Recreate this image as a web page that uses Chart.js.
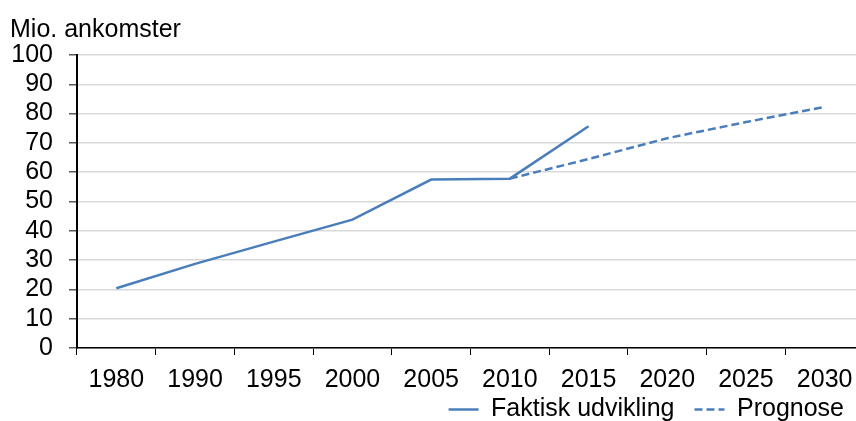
<!DOCTYPE html>
<html>
<head>
<meta charset="utf-8">
<script src="https://cdn.jsdelivr.net/npm/chart.js@4/dist/chart.umd.min.js"></script>
<style>
  html, body { margin: 0; padding: 0; background: #fff; overflow: hidden; }
  #wrap { width: 856px; height: 421px; overflow: hidden; }
</style>
</head>
<body>
<div id="wrap"><canvas id="myChart" width="864" height="432"></canvas></div>
<script>
const years = ["1980", "1990", "1995", "2000", "2005", "2010", "2015", "2020", "2025", "2030"];
const faktisk = [20.4, 28.7, 36.3, 43.8, 57.5, 57.8, 75.7, null, null, null];
const prognose = [null, null, null, null, null, 57.8, 64.5, 71.6, 77.1, 82.3];

window.onload = function () {
  const canvas = document.getElementById("myChart");
  const ctx = canvas.getContext("2d");
  const blue = "#4a7ebb";

  Chart.defaults.font.family = "'Liberation Sans', Arial, sans-serif";
  Chart.defaults.font.size = 25;
  Chart.defaults.color = "#000";

  // the x axis box is squeezed to pull the legend up, so don't let it clip its labels
  const unclipXLabels = {
    id: "unclipXLabels",
    afterLayout(chart) {
      chart.scales.x.bottom = chart.height;
    },
  };

  new Chart(ctx, {
    type: "line",
    data: {
      labels: years,
      datasets: [
        {
          label: "Faktisk udvikling",
          data: faktisk,
          borderColor: blue,
          backgroundColor: blue,
          borderWidth: 2.5,
          pointRadius: 0,
          tension: 0,
        },
        {
          label: "Prognose",
          data: prognose,
          borderColor: blue,
          backgroundColor: blue,
          borderWidth: 2.5,
          borderDash: [8, 4],
          pointRadius: 0,
          tension: 0,
        },
      ],
    },
    options: {
      responsive: false,
      animation: false,
      layout: { padding: { left: 10, top: 15, right: 0, bottom: 0 } },
      plugins: {
        title: {
          display: true,
          text: "Mio. ankomster",
          align: "start",
          font: { size: 25, weight: "normal" },
          padding: { top: 0, bottom: 10 },
        },
        legend: {
          position: "bottom",
          align: "end",
          labels: {
            usePointStyle: true,
            pointStyle: "line",
            pointStyleWidth: 30,
            boxHeight: 25,
            padding: 20,
            font: { size: 25 },
            generateLabels: (chart) => {
              const items = Chart.defaults.plugins.legend.labels.generateLabels(chart);
              items.forEach((item) => {
                const ds = chart.data.datasets[item.datasetIndex];
                item.lineDash = ds.borderDash || [];
                item.lineWidth = ds.borderWidth;
                item.strokeStyle = ds.borderColor;
              });
              return items;
            },
          },
        },
        tooltip: { enabled: false },
      },
      scales: {
        x: {
          offset: true,
          afterFit: (axis) => { axis.height -= 28; },
          grid: {
            drawOnChartArea: false,
            offset: true,
            tickLength: 7,
            tickColor: "#000",
          },
          border: { color: "#000", width: 1.5 },
          ticks: { padding: 10, maxRotation: 0, autoSkip: false },
        },
        y: {
          min: 0,
          max: 100,
          afterFit: (axis) => { axis.width = 67; },
          grid: { color: "#d9d9d9", tickColor: "#595959", tickLength: 8, lineWidth: 1.5 },
          border: { color: "#000", width: 2 },
          ticks: { padding: 16, stepSize: 10, autoSkip: false },
        },
      },
    },
    plugins: [unclipXLabels],
  });
};
</script>
</body>
</html>
